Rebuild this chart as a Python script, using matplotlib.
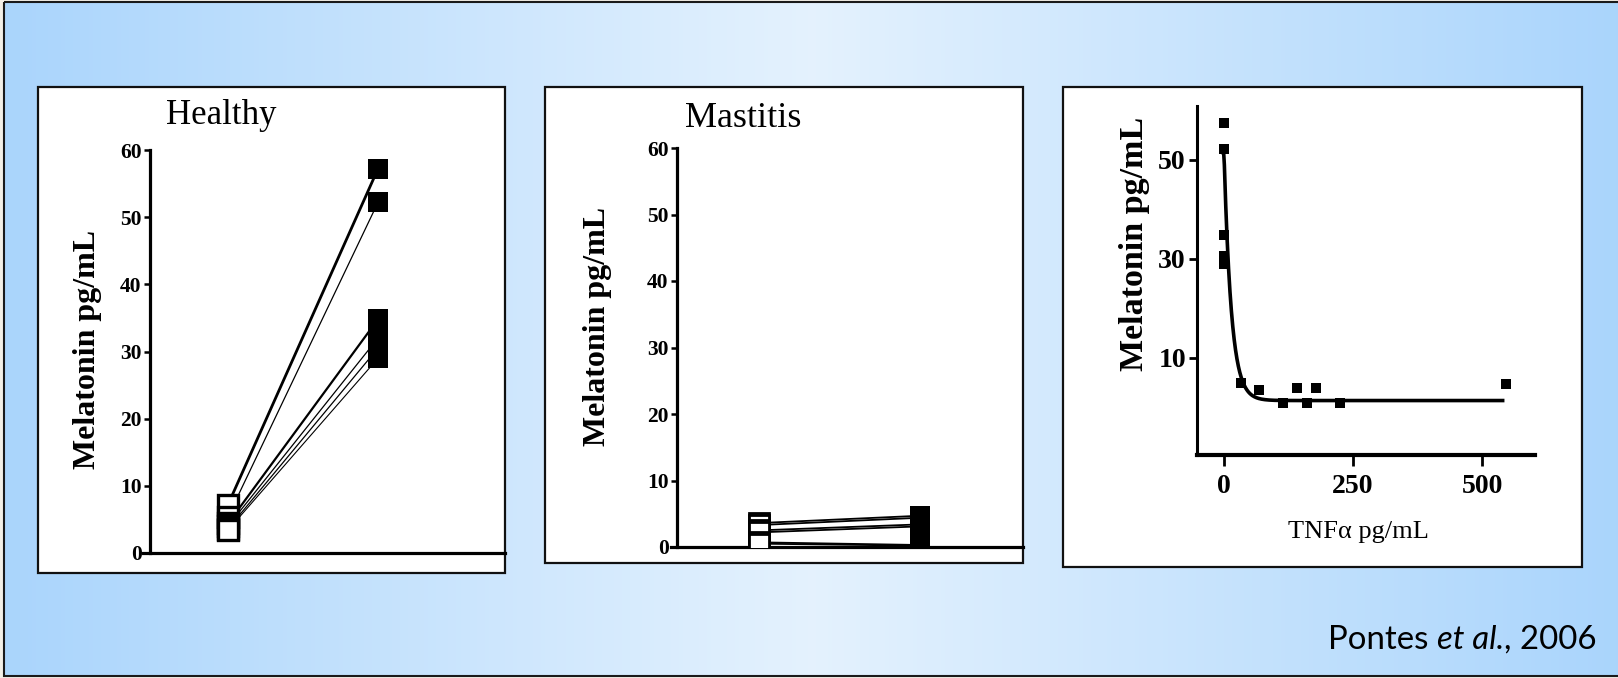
import numpy as np
import matplotlib
matplotlib.use("Agg")
import matplotlib.pyplot as plt
from matplotlib.patches import Rectangle

# ---- data ---------------------------------------------------------------
groups = ["Healthy", "Mastitis"]

healthy_before = [7.2, 5.4, 4.4, 4.0, 3.6, 3.4]
healthy_after = [57.2, 52.2, 34.8, 32.0, 30.5, 29.0]

mastitis_before = [3.6, 3.3, 2.5, 2.2, 0.7, 0.5]
mastitis_after = [4.7, 4.4, 3.4, 3.1, 0.3, 0.2]

tnf_alpha = [0, 0, 0, 0, 0, 33, 68, 114, 141, 161, 178, 225, 546]
melatonin = [57.5, 52.2, 34.8, 30.5, 29.0, 4.9, 3.6, 0.9, 3.9, 0.9, 3.9, 0.9, 4.8]

# one-phase exponential decay fit
fit_y0 = 51.5
fit_plateau = 1.4
fit_k = 0.071

yticks_pair = [0, 10, 20, 30, 40, 50, 60]
yticks_corr = [10, 30, 50]
xticks_corr = [0, 250, 500]

# ---- figure -------------------------------------------------------------
W, H = 1618, 678
fig = plt.figure(figsize=(W / 100, H / 100), dpi=100)
fig.patch.set_facecolor("#f3efe6")

SERIF = "Liberation Serif"


def frac(x0, y0, x1, y1):
    """pixel box (top-left origin) -> figure fraction [l, b, w, h]"""
    return [x0 / W, 1 - y1 / H, (x1 - x0) / W, (y1 - y0) / H]


# backdrop with horizontal blue gradient and framed panels
bg = fig.add_axes([0, 0, 1, 1], zorder=-10)
bg.set_xlim(0, W)
bg.set_ylim(H, 0)
bg.axis("off")
edge = np.array([0.667, 0.835, 0.988])
mid = np.array([0.895, 0.948, 0.996])
xs = np.linspace(0, 1, 400)
t = 1 - np.abs(xs - 0.5) * 2
grad = edge[None, :] + (mid - edge)[None, :] * t[:, None]
bg.imshow(grad[None, :, :], extent=(4, W + 2, 676, 2), aspect="auto", zorder=0)
bg.add_patch(Rectangle((4, 2), W, 674, fill=False, ec="#1a1a1a", lw=1.5, zorder=1))

panels = [(38, 87, 505, 573), (545, 87, 1023, 563), (1063, 87, 1582, 567)]
for x0, y0, x1, y1 in panels:
    bg.add_patch(Rectangle((x0, y0), x1 - x0, y1 - y0, fc="white",
                           ec="#111111", lw=1.6, zorder=2))


def style_pair_axes(ax):
    ax.set_facecolor("none")
    ax.set_ylim(0, 60)
    ax.set_yticks(yticks_pair)
    for s in ("top", "right"):
        ax.spines[s].set_visible(False)
    ax.spines["left"].set_linewidth(2.3)
    ax.spines["bottom"].set_linewidth(2.3)
    ax.spines["left"].set_bounds(0, 60)
    ax.set_xticks([])
    ax.tick_params(axis="y", direction="out", length=4.5, width=1.8, pad=1.5)
    for lab in ax.get_yticklabels():
        lab.set_fontfamily(SERIF)
        lab.set_fontweight("bold")
        lab.set_fontsize(15.5)


# ---- Healthy ------------------------------------------------------------
l1, r1 = 143, 505
c1 = (228, 378)
ppu1 = c1[1] - c1[0]
ax1 = fig.add_axes(frac(l1, 150, r1, 553))
ax1.set_xlim(1 - (c1[0] - l1) / ppu1, 2 + (r1 - c1[1]) / ppu1)
ax1.spines["left"].set_position(("data", 1 - (c1[0] - 150) / ppu1))
style_pair_axes(ax1)
healthy_lw = [2.0, 0.9, 1.6, 0.9, 0.9, 0.8]
for b, a, lw in zip(healthy_before, healthy_after, healthy_lw):
    ax1.plot([1, 2], [b, a], color="black", lw=lw, zorder=2)
ax1.plot([1] * len(healthy_before), healthy_before, ls="none", marker="s",
         ms=14.5, mfc="white", mec="black", mew=2.4, zorder=3, clip_on=False)
ax1.plot([2] * len(healthy_after), healthy_after, ls="none", marker="s",
         ms=14, mfc="black", mec="black", mew=0, zorder=3, clip_on=False)

# ---- Mastitis -----------------------------------------------------------
l2, r2 = 671, 1023
c2 = (759, 920)
ppu2 = c2[1] - c2[0]
ax2 = fig.add_axes(frac(l2, 148, r2, 547))
ax2.set_xlim(1 - (c2[0] - l2) / ppu2, 2 + (r2 - c2[1]) / ppu2)
ax2.spines["left"].set_position(("data", 1 - (c2[0] - 677) / ppu2))
style_pair_axes(ax2)
for b, a in zip(mastitis_before, mastitis_after):
    ax2.plot([1, 2], [b, a], color="black", lw=1.3, zorder=2)
ax2.plot([1] * len(mastitis_before), mastitis_before, ls="none", marker="s",
         ms=14, mfc="white", mec="black", mew=2.0, zorder=3)
ax2.plot([2] * len(mastitis_after), mastitis_after, ls="none", marker="s",
         ms=14.5, mfc="black", mec="black", mew=0, zorder=3)

# ---- correlation panel --------------------------------------------------
ax3 = fig.add_axes(frac(1197, 106, 1535, 455))
ax3.set_facecolor("none")
ax3.set_xlim(-52.3, 602.7)
ax3.set_ylim(-9.6, 60.9)
for s in ("top", "right"):
    ax3.spines[s].set_visible(False)
ax3.spines["left"].set_linewidth(2.2)
ax3.spines["bottom"].set_linewidth(3.0)
ax3.set_xticks(xticks_corr)
ax3.set_yticks(yticks_corr)
ax3.tick_params(axis="x", direction="out", length=8, width=2.0, pad=6)
ax3.tick_params(axis="y", direction="out", length=6, width=2.0, pad=2)
for lab in ax3.get_xticklabels() + ax3.get_yticklabels():
    lab.set_fontfamily(SERIF)
    lab.set_fontweight("bold")
    lab.set_fontsize(20)
xfit = np.linspace(-2, 540, 400)
yfit = fit_plateau + (fit_y0 - fit_plateau) * np.exp(-fit_k * np.clip(xfit, 0, None))
ax3.plot(xfit, yfit, color="black", lw=2.6, zorder=2)
ax3.plot(tnf_alpha, melatonin, ls="none", marker="s", ms=7.5, color="black",
         mew=0, zorder=3, clip_on=False)

# ---- text ---------------------------------------------------------------
def ftext(px, py, s, **kw):
    return fig.text(px / W, 1 - py / H, s, **kw)


ftext(221, 124, groups[0], ha="center", va="baseline", family=SERIF, fontsize=25)
ftext(743, 127, groups[1], ha="center", va="baseline", family=SERIF, fontsize=26)
ylab = "Melatonin pg/mL"
ftext(88, 349, ylab, rotation=90, ha="center", va="center", family=SERIF,
      fontsize=23, fontweight="bold")
ftext(597, 326, ylab, rotation=90, ha="center", va="center", family=SERIF,
      fontsize=23, fontweight="bold")
ftext(1135, 244, ylab, rotation=90, ha="center", va="center", family=SERIF,
      fontsize=24.5, fontweight="bold")
ftext(1358, 532, "TNF\u03b1 pg/mL", ha="center", va="center", family=SERIF,
      fontsize=19)

# citation: roman / italic / roman runs laid out end to end
fs_cite = 23.8
t1 = ftext(1328, 649, "Pontes ", ha="left", va="baseline", family="Lato",
           fontsize=fs_cite)
fig.canvas.draw()
r = fig.canvas.get_renderer()
bb1 = t1.get_window_extent(r)
t2 = fig.text(bb1.x1 / W, 1 - 649 / H, "et al.", ha="left", va="baseline",
              family="Lato", style="italic", fontsize=fs_cite)
fig.canvas.draw()
bb2 = t2.get_window_extent(r)
fig.text(bb2.x1 / W, 1 - 649 / H, ", 2006", ha="left", va="baseline",
         family="Lato", fontsize=fs_cite)

fig.savefig("out.png", dpi=100)
